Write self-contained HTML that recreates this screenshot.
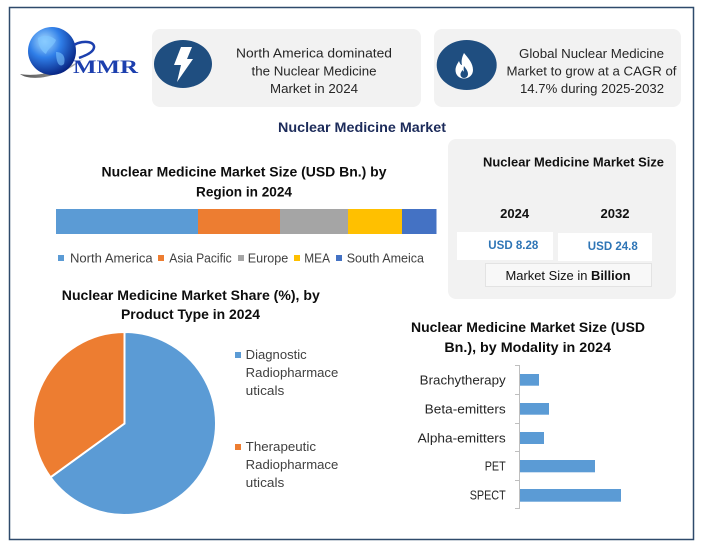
<!DOCTYPE html>
<html><head><meta charset="utf-8"><style>
html,body{margin:0;padding:0;background:#fff;}
svg{display:block;}
text{font-family:"Liberation Sans",sans-serif;}
</style></head><body>
<svg width="703" height="550" viewBox="0 0 703 550" xmlns="http://www.w3.org/2000/svg">
<defs>
<radialGradient id="gl" cx="0.35" cy="0.3" r="0.75">
<stop offset="0" stop-color="#a8dcff"/><stop offset="0.45" stop-color="#2f7ee8"/><stop offset="1" stop-color="#06207e"/>
</radialGradient>
<linearGradient id="sw" x1="0" y1="0" x2="1" y2="0">
<stop offset="0" stop-color="#555"/><stop offset="1" stop-color="#bbb"/>
</linearGradient>
</defs>
<rect x="0" y="0" width="703" height="550" fill="#fff"/>
<rect x="9.5" y="7.5" width="684" height="532" fill="none" stroke="#2e4a6b" stroke-width="1.5"/>

<!-- logo -->
<path d="M20,74 C30,82 62,78 84,58 C64,72 36,77 20,74 Z" fill="url(#sw)"/>
<circle cx="52" cy="51" r="24" fill="url(#gl)"/>
<path d="M38,38 C44,34 52,36 56,40 C54,46 48,48 46,54 C42,52 38,46 38,38 Z" fill="#7cc4ff" opacity="0.7"/>
<path d="M56,52 C62,52 66,56 64,64 C60,68 56,64 56,52 Z" fill="#7cc4ff" opacity="0.6"/>
<path d="M74,45 C84,39 98,42 93,50 C90,54 84,56 79,58" fill="none" stroke="#1c3fae" stroke-width="2.5"/>
<text x="73" y="73" font-family="Liberation Serif,serif" font-weight="bold" font-size="19" fill="#1c3fae" textLength="65" lengthAdjust="spacingAndGlyphs" style="font-family:'Liberation Serif',serif">MMR</text>

<!-- top box 1 -->
<rect x="152" y="29" width="269" height="78" rx="8" fill="#f2f2f2"/>
<ellipse cx="183" cy="64" rx="29" ry="24" fill="#1f4e80"/>
<polygon points="181,47 192,47 187,59 193,59 177,82 181,65 174,65" fill="#fff"/>
<g font-size="13" fill="#262626" text-anchor="middle">
<text x="314" y="57.5" textLength="156" lengthAdjust="spacingAndGlyphs">North America dominated</text>
<text x="314" y="75.5" textLength="125" lengthAdjust="spacingAndGlyphs">the Nuclear Medicine</text>
<text x="314" y="93" textLength="88" lengthAdjust="spacingAndGlyphs">Market in 2024</text>
</g>

<!-- top box 2 -->
<rect x="434" y="29" width="247" height="78" rx="8" fill="#f2f2f2"/>
<ellipse cx="466.7" cy="65" rx="30" ry="25" fill="#1f4e80"/>
<path d="M464,53 C468,58 473,63 473,70 C473,75 469,78.5 464,78.5 C459,78.5 455.5,75 455.5,70 C455.5,66 458,63 459,61 C460,64 461,65 462,65 C461,61 462,57 464,53 Z" fill="#fff"/>
<path d="M464,66 C466,69 468,71 468,74 C468,76.5 466,78 464,78 C462,78 460.5,76.5 460.5,74.5 C460.5,72.5 462,71 462.5,70 C463,71 463.5,71.5 464,71.5 C463.5,70 463.5,68 464,66 Z" fill="#1f4e80"/>
<g font-size="13" fill="#262626" text-anchor="middle">
<text x="591.5" y="58" textLength="145" lengthAdjust="spacingAndGlyphs">Global Nuclear Medicine</text>
<text x="591.5" y="75.5" textLength="170" lengthAdjust="spacingAndGlyphs">Market to grow at a CAGR of</text>
<text x="592" y="93" textLength="144" lengthAdjust="spacingAndGlyphs">14.7% during 2025-2032</text>
</g>

<!-- main title -->
<text x="362" y="132" font-size="14" font-weight="bold" fill="#1c2b5a" text-anchor="middle" textLength="168" lengthAdjust="spacingAndGlyphs">Nuclear Medicine Market</text>

<!-- market size box -->
<rect x="448" y="139" width="228" height="160" rx="8" fill="#f2f2f2"/>
<text x="573.5" y="166.5" font-size="13" font-weight="bold" fill="#111" text-anchor="middle" textLength="181" lengthAdjust="spacingAndGlyphs">Nuclear Medicine Market Size</text>
<text x="514.7" y="218" font-size="13" font-weight="bold" fill="#111" text-anchor="middle" textLength="29" lengthAdjust="spacingAndGlyphs">2024</text>
<text x="615" y="218" font-size="13" font-weight="bold" fill="#111" text-anchor="middle" textLength="29" lengthAdjust="spacingAndGlyphs">2032</text>
<rect x="457" y="232" width="96" height="28" fill="#fff"/>
<rect x="558" y="233" width="94" height="28" fill="#fff"/>
<text x="513.3" y="249" font-size="12" font-weight="bold" fill="#2e75b6" text-anchor="middle" textLength="50" lengthAdjust="spacingAndGlyphs">USD 8.28</text>
<text x="612.8" y="250" font-size="12" font-weight="bold" fill="#2e75b6" text-anchor="middle" textLength="50" lengthAdjust="spacingAndGlyphs">USD 24.8</text>
<rect x="485.5" y="263.5" width="166" height="23" fill="#f8f8f8" stroke="#e3e3e3" stroke-width="1"/>
<text x="568" y="280" font-size="13" fill="#111" text-anchor="middle" textLength="125" lengthAdjust="spacingAndGlyphs">Market Size in <tspan font-weight="bold">Billion</tspan></text>

<!-- region chart -->
<g font-size="14" font-weight="bold" fill="#0d0d0d" text-anchor="middle">
<text x="244" y="176.5" textLength="285" lengthAdjust="spacingAndGlyphs">Nuclear Medicine Market Size (USD Bn.) by</text>
<text x="244" y="196.5" textLength="96" lengthAdjust="spacingAndGlyphs">Region in 2024</text>
</g>
<rect x="56" y="209" width="142" height="25" fill="#5b9bd5"/>
<rect x="198" y="209" width="82" height="25" fill="#ed7d31"/>
<rect x="280" y="209" width="68" height="25" fill="#a5a5a5"/>
<rect x="348" y="209" width="54" height="25" fill="#ffc000"/>
<rect x="402" y="209" width="34.5" height="25" fill="#4472c4"/>
<g font-size="13" fill="#404040">
<rect x="58" y="255" width="6" height="6" fill="#5b9bd5"/>
<text x="70" y="262.5" textLength="82.7" lengthAdjust="spacingAndGlyphs">North America</text>
<rect x="158" y="255" width="6" height="6" fill="#ed7d31"/>
<text x="169.3" y="262.5" textLength="62.4" lengthAdjust="spacingAndGlyphs">Asia Pacific</text>
<rect x="238" y="255" width="6" height="6" fill="#a5a5a5"/>
<text x="247.7" y="262.5" textLength="40.6" lengthAdjust="spacingAndGlyphs">Europe</text>
<rect x="294" y="255" width="6" height="6" fill="#ffc000"/>
<text x="304.3" y="262.5" textLength="25.7" lengthAdjust="spacingAndGlyphs">MEA</text>
<rect x="336" y="255" width="6" height="6" fill="#4472c4"/>
<text x="346.7" y="262.5" textLength="77.3" lengthAdjust="spacingAndGlyphs">South Ameica</text>
</g>

<!-- pie chart -->
<g font-size="14" font-weight="bold" fill="#0d0d0d" text-anchor="middle">
<text x="190.8" y="300" textLength="258" lengthAdjust="spacingAndGlyphs">Nuclear Medicine Market Share (%), by</text>
<text x="190.5" y="319" textLength="139" lengthAdjust="spacingAndGlyphs">Product Type in 2024</text>
</g>
<path d="M124.5,423.5 L124.5,332 A91.5,91.5 0 1 1 50.5,477.3 Z" fill="#5b9bd5" stroke="#fff" stroke-width="2"/>
<path d="M124.5,423.5 L50.5,477.3 A91.5,91.5 0 0 1 124.5,332 Z" fill="#ed7d31" stroke="#fff" stroke-width="2"/>
<g font-size="13" fill="#404040">
<rect x="235" y="352" width="6" height="6" fill="#5b9bd5"/>
<text x="245.7" y="359" textLength="61" lengthAdjust="spacingAndGlyphs">Diagnostic</text>
<text x="245.7" y="377" textLength="92.6" lengthAdjust="spacingAndGlyphs">Radiopharmace</text>
<text x="245.7" y="395" textLength="38.6" lengthAdjust="spacingAndGlyphs">uticals</text>
<rect x="235" y="444" width="6" height="6" fill="#ed7d31"/>
<text x="245.7" y="451" textLength="70.3" lengthAdjust="spacingAndGlyphs">Therapeutic</text>
<text x="245.7" y="469" textLength="92.6" lengthAdjust="spacingAndGlyphs">Radiopharmace</text>
<text x="245.7" y="487" textLength="38.6" lengthAdjust="spacingAndGlyphs">uticals</text>
</g>

<!-- bar chart -->
<g font-size="14" font-weight="bold" fill="#0d0d0d" text-anchor="middle">
<text x="528" y="332" textLength="234" lengthAdjust="spacingAndGlyphs">Nuclear Medicine Market Size (USD</text>
<text x="527.7" y="352" textLength="166.7" lengthAdjust="spacingAndGlyphs">Bn.), by Modality in 2024</text>
</g>
<g stroke="#bfbfbf" stroke-width="1">
<line x1="519.5" y1="365" x2="519.5" y2="509"/>
<line x1="515" y1="365.5" x2="519.5" y2="365.5"/>
<line x1="515" y1="394.5" x2="519.5" y2="394.5"/>
<line x1="515" y1="423.5" x2="519.5" y2="423.5"/>
<line x1="515" y1="451.5" x2="519.5" y2="451.5"/>
<line x1="515" y1="480.5" x2="519.5" y2="480.5"/>
<line x1="515" y1="508.5" x2="519.5" y2="508.5"/>
</g>
<g fill="#5b9bd5">
<rect x="520" y="374" width="19" height="11.7"/>
<rect x="520" y="403" width="29" height="11.7"/>
<rect x="520" y="432" width="24" height="12"/>
<rect x="520" y="460" width="75" height="12.3"/>
<rect x="520" y="489" width="101" height="12.7"/>
</g>
<g font-size="13" fill="#262626" text-anchor="end">
<text x="505.7" y="384.5" textLength="86" lengthAdjust="spacingAndGlyphs">Brachytherapy</text>
<text x="505.7" y="413.5" textLength="81" lengthAdjust="spacingAndGlyphs">Beta-emitters</text>
<text x="505.7" y="442.5" textLength="88" lengthAdjust="spacingAndGlyphs">Alpha-emitters</text>
<text x="505.7" y="470.5" textLength="21" lengthAdjust="spacingAndGlyphs">PET</text>
<text x="505.7" y="499.5" textLength="36" lengthAdjust="spacingAndGlyphs">SPECT</text>
</g>
</svg>
</body></html>
